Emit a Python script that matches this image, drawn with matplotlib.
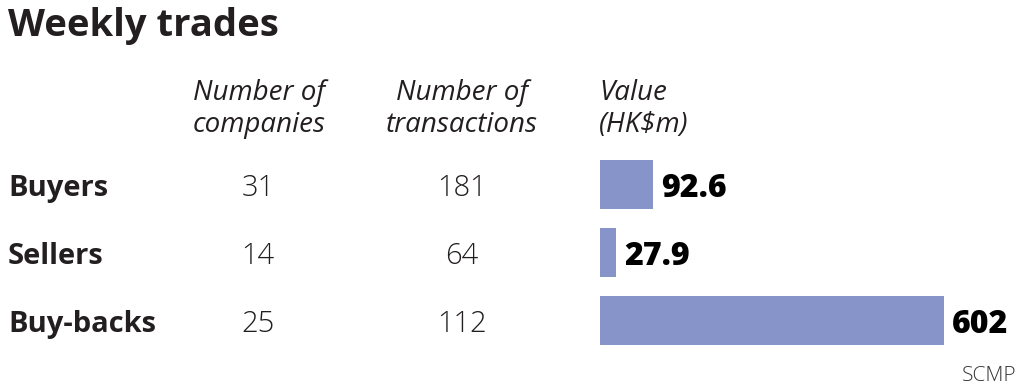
import matplotlib
matplotlib.use('Agg')
import matplotlib.pyplot as plt
import matplotlib.transforms as mtransforms

# data
rows = ['Buyers', 'Sellers', 'Buy-backs']
companies = [31, 14, 25]
transactions = [181, 64, 112]
value = [92.6, 27.9, 602]
value_labels = ['92.6', '27.9', '602']

plt.rcParams['font.family'] = ['Open Sans', 'DejaVu Sans']
ink = '#231f20'
bar_colour = '#8694c9'

W, H = 1024, 387
fig = plt.figure(figsize=(W / 100, H / 100), dpi=100)
fig.patch.set_facecolor('white')

def fx(px):
    return px / W

def fy(py):
    return 1 - py / H

# bar axes: x 600..944 px for 0..602, rows centred at 184.5, 252, 320.5 px
ax = fig.add_axes([fx(600), fy(354.5), fx(944) - fx(600), (354.5 - 150.5) / H])
ypos = list(range(len(rows)))
ax.barh(ypos, value, height=0.71, color=bar_colour, edgecolor='none')
ax.set_xlim(0, 602)
ax.set_ylim(2.5, -0.5)
ax.axis('off')

base = 0.17  # baseline offset (data units) below row centre
for y, lab in zip(ypos, value_labels):
    ax.annotate(lab, (value[y], y + base + 0.02), xytext=(6, 0), textcoords='offset points',
                ha='left', va='baseline', fontsize=23, fontweight='heavy', color='black')

# row labels and counts, x in figure pixels, y tied to bar rows
tr = mtransforms.blended_transform_factory(fig.transFigure, ax.transData)
for y in ypos:
    fig.text(fx(8), y + base, rows[y], transform=tr, ha='left', va='baseline',
             fontsize=21, fontweight='bold', color=ink)
    fig.text(fx(258), y + base, str(companies[y]), transform=tr, ha='center',
             va='baseline', fontsize=21, fontweight='light', color=ink)
    fig.text(fx(462), y + base, str(transactions[y]), transform=tr, ha='center',
             va='baseline', fontsize=21, fontweight='light', color=ink)

# title
fig.text(fx(8), fy(36), 'Weekly trades', ha='left', va='baseline',
         fontsize=27.5, fontweight='bold', color=ink)

# column headers
hdr = dict(va='baseline', fontsize=20, fontstyle='italic', color=ink)
fig.text(fx(259), fy(100), 'Number of', ha='center', **hdr)
fig.text(fx(259), fy(132), 'companies', ha='center', **hdr)
fig.text(fx(462), fy(100), 'Number of', ha='center', **hdr)
fig.text(fx(462), fy(132), 'transactions', ha='center', **hdr)
fig.text(fx(599), fy(100), 'Value', ha='left', **hdr)
fig.text(fx(599), fy(132), '(HK$m)', ha='left', **hdr)

fig.text(fx(1016), fy(381), 'SCMP', ha='right', va='baseline', fontsize=15,
         fontweight='light', color='#333333')

fig.savefig('out.png', dpi=100, facecolor='white')
